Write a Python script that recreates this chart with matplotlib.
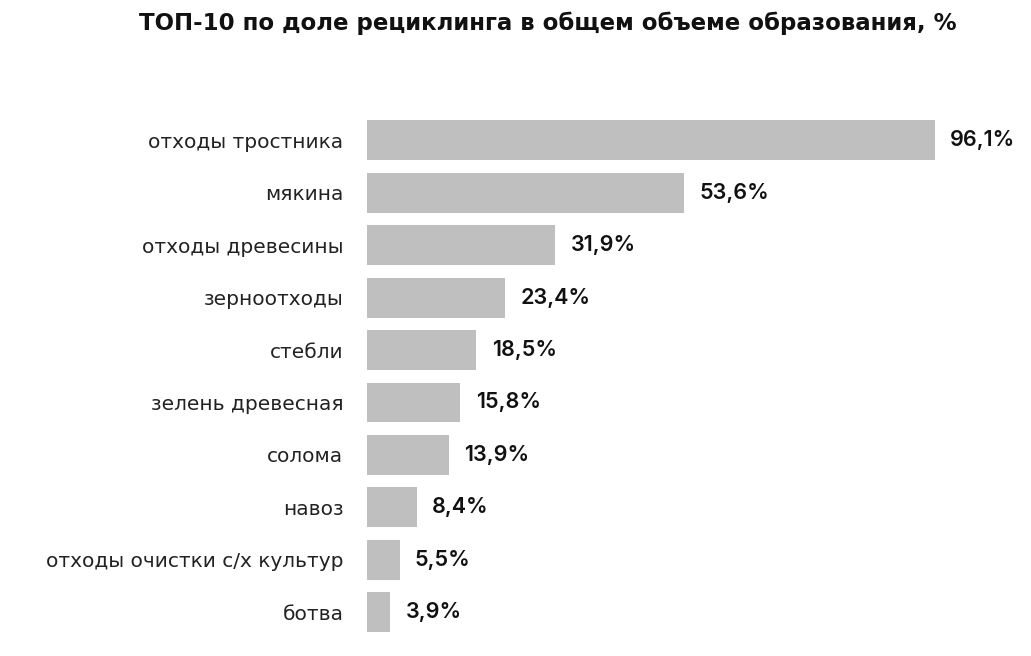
import matplotlib
matplotlib.use("Agg")
import matplotlib.pyplot as plt

categories = ["отходы тростника", "мякина", "отходы древесины", "зерноотходы", "стебли",
              "зелень древесная", "солома", "навоз", "отходы очистки с/х культур", "ботва"]
values = [96.1, 53.6, 31.9, 23.4, 18.5, 15.8, 13.9, 8.4, 5.5, 3.9]

plt.rcParams['font.family'] = ['DejaVu Sans']
fig = plt.figure(figsize=(10.31, 6.56), dpi=100)
ax = fig.add_axes([0.356, 0.027, 0.573, 0.799])
y = list(range(len(categories)))
ax.barh(y, values, height=0.76, color="#bfbfbf")
ax.set_ylim(len(categories) - 0.5, -0.5)
ax.set_xlim(0, 100)
ax.set_yticks(y)
ax.set_yticklabels(categories, fontsize=14.5, color="#222222")
ax.tick_params(axis='y', length=0, pad=17)
ax.set_xticks([])
for s in ax.spines.values():
    s.set_visible(False)
for yi, v in zip(y, values):
    ax.text(v + 2.6, yi, f"{v:.1f}%".replace(".", ","), va="center", ha="left",
            fontsize=15.5, fontweight="semibold", family=["Inter", "DejaVu Sans"], color="#111111")
fig.text(0.531, 0.964, "ТОП-10 по доле рециклинга в общем объеме образования, %",
         ha="center", va="center", fontsize=16.5, fontweight="bold", color="#111111")
fig.savefig("out.png", dpi=100)
